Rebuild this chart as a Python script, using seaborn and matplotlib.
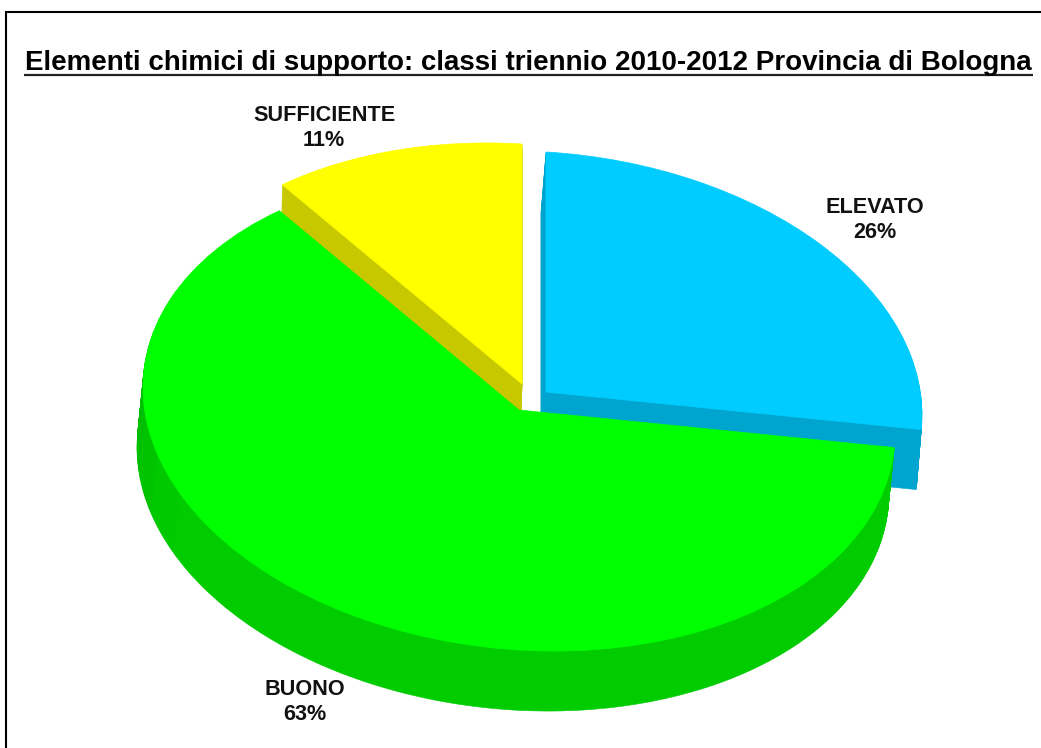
import matplotlib
matplotlib.use("Agg")
import matplotlib.pyplot as plt
from matplotlib.patches import Wedge
from matplotlib.transforms import Affine2D
import seaborn as sns

categories = ["ELEVATO", "BUONO", "SUFFICIENTE"]
values = [26, 63, 11]
title = "Elementi chimici di supporto: classi triennio 2010-2012 Provincia di Bologna"

top_colors = ["#00ccff", "#00ff00", "#ffff00"]
wall_colors = ["#00a5cf", "#00cc00", "#c8c800"]

# pixel geometry of the tilted pie
RX, RY, SHEAR = 376, 240, 0.06
apex = [(546, 392), (519, 410), (522, 384)]
depth = [60, 60, 40]
wall_dx = [-5, -6, -1]
label_pos = [(874.5, 220), (305, 702), (324, 128)]

sns.set_theme(style="white")
plt.rcParams["font.family"] = ["Liberation Sans", "DejaVu Sans"]

fig = plt.figure(figsize=(10.41, 7.48), dpi=100)
ax = fig.add_axes([0, 0, 1, 1])

wedges, _ = ax.pie(values, colors=top_colors, startangle=90, counterclock=False, radius=1)
ax.set_aspect("auto")
ax.set_xlim(0, 1041)
ax.set_ylim(748, 0)


def pie_transform(cx, cy):
    # unit circle -> screen pixels, y flipped and slightly sheared
    m = [[RX, 0, cx], [SHEAR * RX, -RY, cy], [0, 0, 1]]
    return Affine2D(m) + ax.transData


# walls first, then the top face; green sits over the others
draw_order = [0, 2, 1]
for level, i in enumerate(draw_order):
    w = wedges[i]
    cx, cy = apex[i]
    # green wall is darker at the left, lighter at the front
    if i == 1:
        n_sec = 24
        shades = sns.blend_palette(["#00a800", "#00cc00", "#00cc00", "#00cc00"], n_sec)
    else:
        n_sec = 1
        shades = [wall_colors[i]]
    step = (w.theta2 - w.theta1) / n_sec
    for d in range(depth[i], 0, -1):
        tr = pie_transform(cx + wall_dx[i] * d / depth[i], cy + d)
        for s in range(n_sec):
            p = Wedge((0, 0), 1, w.theta1 + s * step, w.theta1 + (s + 1) * step,
                      facecolor=shades[s], edgecolor=shades[s], linewidth=0.4,
                      zorder=2 + level * 2)
            p.set_transform(tr)
            ax.add_patch(p)
    w.set_transform(pie_transform(cx, cy))
    w.set_zorder(3 + level * 2)
    w.set_edgecolor(top_colors[i])
    w.set_linewidth(0.5)

for cat, val, (x, y) in zip(categories, values, label_pos):
    ax.text(x, y, f"{cat}\n{val}%", ha="center", va="center", fontsize=15.6,
            fontweight="bold", color="#111111", linespacing=1.3, zorder=20)

ax.text(528.5, 70, title, ha="center", va="baseline", fontsize=20, fontweight="bold", color="black")
ax.hlines(74.5, 24, 1033, color="#222222", linewidth=1.6)

# outer frame, only top and left are in the picture
ax.hlines(11.5, 5, 1041, color="black", linewidth=1.5)
ax.vlines(5.5, 11, 748, color="black", linewidth=1.5)

ax.set_axis_off()
fig.savefig("out.png", dpi=100, facecolor="white")
